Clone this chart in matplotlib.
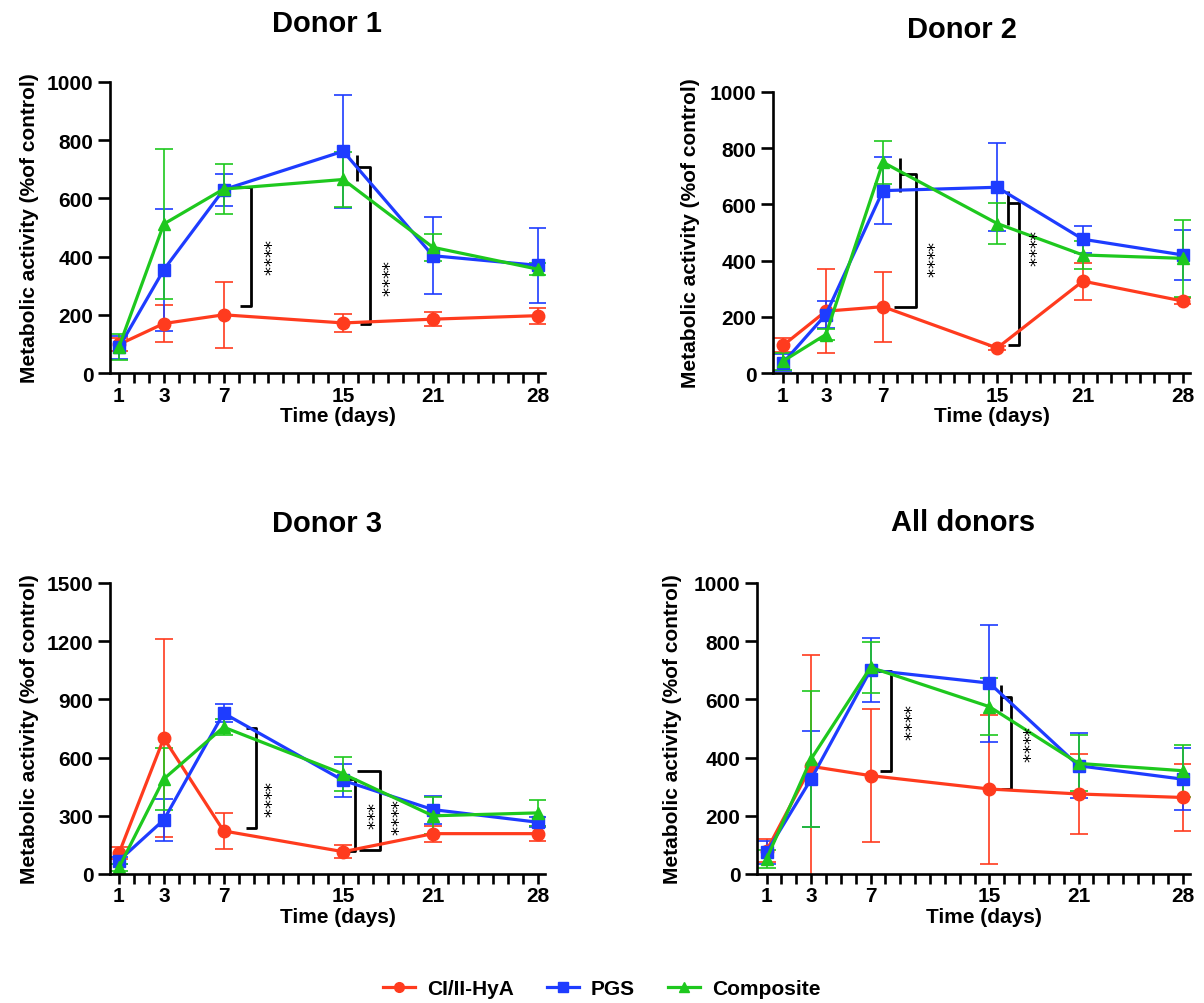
import matplotlib
matplotlib.use("Agg")
import matplotlib.pyplot as plt
from matplotlib.lines import Line2D
import numpy as np

plt.rcParams['font.family'] = ['Liberation Sans', 'DejaVu Sans']
plt.rcParams['font.weight'] = 'bold'

# time points (day 1 sits on the origin of the axis)
day_pos = [0, 3, 7, 15, 21, 28]
day_labels = ['1', '3', '7', '15', '21', '28']

series_names = ['CI/II-HyA', 'PGS', 'Composite']
colors = ['#FF3B1E', '#1E3CFF', '#1EC81E']
markers = ['o', 's', '^']

# Donor 1
d1_hya = [98, 170, 200, 172, 185, 197]
d1_hya_sd = [22, 62, 113, 31, 25, 28]
d1_pgs = [88, 355, 630, 762, 403, 370]
d1_pgs_sd = [40, 210, 55, 195, 133, 128]
d1_comp = [90, 512, 632, 665, 432, 357]
d1_comp_sd = [45, 257, 86, 95, 47, 20]

# Donor 2
d2_hya = [98, 220, 236, 89, 327, 256]
d2_hya_sd = [25, 149, 124, 8, 66, 10]
d2_pgs = [36, 208, 649, 661, 476, 420]
d2_pgs_sd = [30, 48, 118, 157, 48, 90]
d2_comp = [42, 137, 750, 532, 420, 408]
d2_comp_sd = [30, 20, 77, 72, 50, 138]

# Donor 3
d3_hya = [107, 700, 222, 115, 208, 208]
d3_hya_sd = [30, 509, 95, 35, 41, 40]
d3_pgs = [69, 279, 829, 482, 332, 267]
d3_pgs_sd = [20, 108, 45, 85, 72, 25]
d3_comp = [34, 490, 757, 516, 300, 315]
d3_comp_sd = [20, 160, 40, 86, 95, 68]

# All donors pooled
all_hya = [80, 370, 338, 292, 275, 263]
all_hya_sd = [40, 383, 229, 256, 137, 115]
all_pgs = [74, 326, 701, 656, 372, 326]
all_pgs_sd = [40, 164, 111, 201, 111, 106]
all_comp = [52, 395, 710, 575, 380, 355]
all_comp_sd = [30, 235, 88, 97, 96, 89]

W, H = 1204, 1004
fig = plt.figure(figsize=(W / 100, H / 100), dpi=100)


def box(l, t, r, b):
    return [l / W, 1 - b / H, (r - l) / W, (b - t) / H]


# significance brackets: (x of vertical, x start top, x start bottom, y top, y bottom,
#                         group tick (x, y0, y1) or None, stars, star x, star y)
panels = [
    dict(title='Donor 1', rect=box(110, 83, 545, 374), xlim=(-0.6, 28.5), ymax=1000, ystep=200,
         data=[(d1_hya, d1_hya_sd), (d1_pgs, d1_pgs_sd), (d1_comp, d1_comp_sd)],
         brackets=[(8.8, 7.6, 8.1, 638, 230, None, '****', 9.6, 397),
                   (16.8, 15.9, 16.1, 709, 167, (15.9, 661, 750), '****', 17.5, 325)],
         title_xy=(327, 24), ylab_x=30, xlab_y=417),
    dict(title='Donor 2', rect=box(773, 93, 1190, 374), xlim=(-0.7, 28.5), ymax=1000, ystep=200,
         data=[(d2_hya, d2_hya_sd), (d2_pgs, d2_pgs_sd), (d2_comp, d2_comp_sd)],
         brackets=[(9.28, 8.16, 7.8, 708, 236, (8.16, 643, 764), '****', 10.0, 405),
                   (16.5, 15.73, 15.73, 604, 98, (15.73, 527, 646), '****', 17.1, 446)],
         title_xy=(962, 30), ylab_x=690, xlab_y=417),
    dict(title='Donor 3', rect=box(110, 584, 545, 875), xlim=(-0.6, 28.5), ymax=1500, ystep=300,
         data=[(d3_hya, d3_hya_sd), (d3_pgs, d3_pgs_sd), (d3_comp, d3_comp_sd)],
         brackets=[(9.19, 8.47, 8.47, 753, 239, None, '****', 9.57, 387),
                   (15.78, 14.7, 14.7, 490, 120, None, '***', 16.5, 304),
                   (17.43, 15.9, 16.07, 533, 126, None, '****', 18.07, 292)],
         title_xy=(327, 524), ylab_x=30, xlab_y=918),
    dict(title='All donors', rect=box(757, 584, 1190, 875), xlim=(-0.64, 28.5), ymax=1000, ystep=200,
         data=[(all_hya, all_hya_sd), (all_pgs, all_pgs_sd), (all_comp, all_comp_sd)],
         brackets=[(8.4, 7.5, 7.65, 699, 353, None, '****', 9.18, 521),
                   (16.45, 15.8, 15.8, 607, 292, (15.8, 561, 650), '****', 17.15, 447)],
         title_xy=(963, 523), ylab_x=672, xlab_y=918),
]

for p in panels:
    ax = fig.add_axes(p['rect'])
    for (vals, sd), c, m, name in zip(p['data'], colors, markers, series_names):
        ax.errorbar(day_pos, vals, yerr=sd, color=c, marker=m, ms=9, lw=2.3,
                    elinewidth=1.2, capsize=6.5, capthick=1.2, label=name)

    for xv, xt, xb, yt, yb, grp, stars, sx, sy in p['brackets']:
        kw = dict(color='black', lw=2.0, solid_capstyle='butt', clip_on=False)
        ax.plot([xt, xv, xv, xb], [yt, yt, yb, yb], **kw)
        if grp is not None:
            ax.plot([grp[0], grp[0]], [grp[1], grp[2]], **kw)
        ax.text(sx, sy, stars, rotation=270, ha='center', va='center',
                fontsize=13, fontweight='normal', family='DejaVu Sans')

    ax.set_xlim(*p['xlim'])
    ax.set_ylim(0, p['ymax'])
    ax.set_yticks(np.arange(0, p['ymax'] + 1, p['ystep']))
    ax.set_xticks(np.arange(0, 29))
    ax.set_xticklabels([day_labels[day_pos.index(d)] if d in day_pos else '' for d in range(29)])
    for s in ['top', 'right']:
        ax.spines[s].set_visible(False)
    for s in ['left', 'bottom']:
        ax.spines[s].set_linewidth(1.9)
    ax.tick_params(axis='y', direction='out', length=9, width=1.9, labelsize=15, pad=3)
    ax.tick_params(axis='x', direction='out', length=7, width=1.9, labelsize=15, pad=2)
    for lab in ax.get_xticklabels() + ax.get_yticklabels():
        lab.set_fontweight('bold')

    fig.text(p['title_xy'][0] / W, 1 - p['title_xy'][1] / H, p['title'],
             ha='center', va='center', fontsize=21, fontweight='bold')
    pos = ax.get_position()
    fig.text(p['ylab_x'] / W, pos.y0 + pos.height / 2, 'Metabolic activity (%of control)',
             rotation=90, ha='center', va='center', fontsize=15, fontweight='bold')
    fig.text((pos.x0 + pos.x1) / 2 + 10 / W, 1 - p['xlab_y'] / H, 'Time (days)',
             ha='center', va='center', fontsize=15, fontweight='bold')

handles = [Line2D([], [], color=c, marker=m, ms=7, lw=2.3) for c, m in zip(colors, markers)]
fig.legend(handles, series_names, loc='center', bbox_to_anchor=(0.5, 1 - 990 / H),
           ncol=3, frameon=False, fontsize=15, handlelength=1.5, columnspacing=1.6,
           handletextpad=0.6)

fig.savefig('out.png', dpi=100)
